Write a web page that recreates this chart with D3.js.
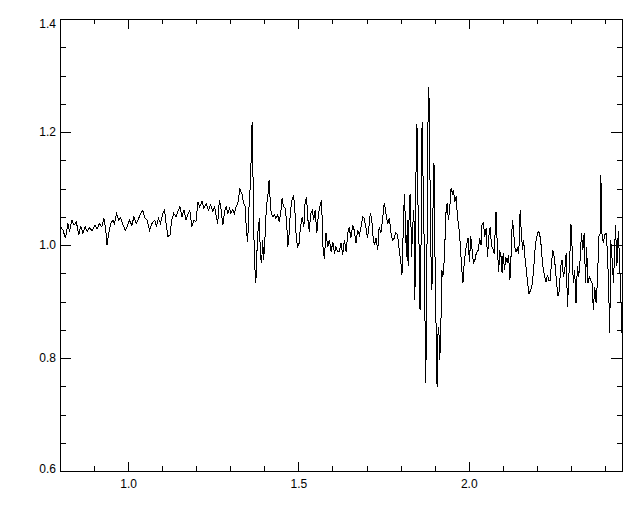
<!DOCTYPE html>
<html>
<head>
<meta charset="utf-8">
<script src="https://cdn.jsdelivr.net/npm/d3@7"></script>
<style>
body { margin: 0; background: #fff; }
svg text { font-family: "Liberation Sans", Arial, sans-serif; font-size: 12px; fill: #000; }
</style>
</head>
<body>
<script>
// values (x, ratio)
let waveX = [
  0.802, 0.809, 0.816, 0.823, 0.828, 0.835, 0.841, 0.848, 0.855, 0.861, 0.867, 0.874,
  0.880, 0.887, 0.894, 0.902, 0.909, 0.916, 0.923, 0.929, 0.934, 0.938, 0.943, 0.949,
  0.955, 0.960, 0.966, 0.972, 0.978, 0.985, 0.992, 0.997, 1.004, 1.011, 1.017, 1.024,
  1.031, 1.037, 1.043, 1.050, 1.056, 1.063, 1.070, 1.078, 1.083, 1.089, 1.095, 1.102,
  1.107, 1.112, 1.117, 1.123, 1.128, 1.134, 1.141, 1.146, 1.152, 1.158, 1.164, 1.170,
  1.175, 1.181, 1.187, 1.193, 1.199, 1.205,
  1.210, 1.217, 1.222, 1.229, 1.236, 1.242, 1.249, 1.254, 1.258, 1.263, 1.268, 1.273,
  1.278, 1.283, 1.288, 1.293, 1.298, 1.302, 1.307, 1.312, 1.317, 1.322, 1.328, 1.334,
  1.339, 1.344, 1.347, 1.351, 1.355, 1.359, 1.361, 1.364, 1.367, 1.369, 1.372, 1.375,
  1.378, 1.382, 1.386, 1.388, 1.392, 1.395, 1.398, 1.402, 1.406, 1.410, 1.414, 1.417,
  1.420, 1.425, 1.430, 1.434, 1.439, 1.444, 1.449, 1.452, 1.456, 1.461, 1.465, 1.469,
  1.473, 1.476, 1.481, 1.486, 1.490, 1.494, 1.498, 1.502, 1.506, 1.511, 1.516, 1.520,
  1.524, 1.528, 1.532, 1.536, 1.541, 1.545, 1.549, 1.554, 1.559, 1.564, 1.568, 1.572,
  1.576, 1.581, 1.586, 1.591, 1.596, 1.601, 1.606, 1.610, 1.615,
  1.620, 1.625, 1.630, 1.635, 1.640, 1.645, 1.649, 1.654, 1.659, 1.664, 1.669, 1.674,
  1.679, 1.684, 1.689, 1.693, 1.698, 1.703, 1.708, 1.711, 1.715, 1.719, 1.723, 1.728,
  1.733, 1.737, 1.742, 1.747, 1.752, 1.757, 1.762, 1.767, 1.772, 1.776, 1.781, 1.786,
  1.791, 1.796, 1.801, 1.804, 1.808, 1.811, 1.814, 1.817, 1.820, 1.822, 1.826, 1.829,
  1.832, 1.836, 1.839, 1.842, 1.845, 1.848, 1.851, 1.854, 1.857, 1.860, 1.863, 1.865,
  1.868, 1.871, 1.874, 1.877, 1.880, 1.883, 1.886, 1.889, 1.892, 1.895, 1.898, 1.901,
  1.904, 1.907, 1.909, 1.912, 1.915, 1.918, 1.921, 1.924, 1.927, 1.930, 1.934, 1.937,
  1.940, 1.944, 1.948, 1.952, 1.955, 1.959, 1.963, 1.967, 1.971, 1.975, 1.979, 1.983,
  1.987, 1.991, 1.995, 1.998, 2.002, 2.006, 2.010, 2.014, 2.018, 2.022,
  2.028, 2.032, 2.036, 2.039, 2.043, 2.047, 2.051, 2.055, 2.059, 2.063, 2.067, 2.071,
  2.075, 2.080, 2.082, 2.085, 2.088, 2.091, 2.095, 2.098, 2.101, 2.105, 2.109, 2.113,
  2.117, 2.121, 2.125, 2.128, 2.131, 2.135, 2.139, 2.143, 2.147, 2.151, 2.154, 2.158,
  2.161, 2.165, 2.169, 2.172, 2.177, 2.182, 2.187, 2.192, 2.196, 2.200, 2.204, 2.208,
  2.212, 2.215, 2.219, 2.223, 2.227, 2.231, 2.235, 2.239, 2.243, 2.247, 2.251, 2.255,
  2.258, 2.262, 2.266, 2.270, 2.274, 2.278, 2.282, 2.286, 2.290, 2.294, 2.298, 2.300,
  2.303, 2.307, 2.311, 2.315, 2.319, 2.323, 2.327, 2.331, 2.335, 2.339, 2.343, 2.346,
  2.350, 2.354, 2.358, 2.362, 2.366, 2.370, 2.374, 2.378, 2.382, 2.386, 2.388, 2.391,
  2.395, 2.399, 2.403, 2.407, 2.411, 2.414, 2.417, 2.421, 2.425, 2.429, 2.431, 2.435,
  2.439, 2.443, 2.447, 2.450
];
let waveY = [
  1.032, 1.026, 1.012, 1.038, 1.024, 1.044, 1.035, 1.041, 1.018, 1.034, 1.021, 1.032,
  1.024, 1.031, 1.025, 1.035, 1.029, 1.038, 1.032, 1.047, 1.029, 1.000, 1.021, 1.038,
  1.044, 1.038, 1.055, 1.044, 1.049, 1.035, 1.026, 1.032, 1.044, 1.035, 1.050, 1.038,
  1.047, 1.056, 1.061, 1.047, 1.044, 1.026, 1.038, 1.044, 1.032, 1.047, 1.038, 1.056,
  1.062, 1.035, 1.015, 1.018, 1.044, 1.056, 1.050, 1.059, 1.068, 1.050, 1.062, 1.044,
  1.053, 1.062, 1.032, 1.044, 1.041, 1.076,
  1.068, 1.077, 1.065, 1.073, 1.062, 1.071, 1.059, 1.068, 1.053, 1.038, 1.080, 1.062,
  1.035, 1.059, 1.068, 1.056, 1.065, 1.056, 1.062, 1.056, 1.068, 1.074, 1.099, 1.091,
  1.074, 1.068, 1.027, 1.006, 1.068, 1.109, 1.150, 1.218, 1.109, 1.021, 0.962, 0.932,
  0.985, 1.032, 1.047, 0.979, 0.968, 1.009, 0.973, 1.015, 1.068, 1.086, 1.115, 1.080,
  1.056, 1.050, 1.053, 1.047, 1.053, 1.041, 1.062, 1.083, 1.068, 1.065, 1.044, 0.997,
  1.021, 1.056, 1.080, 1.089, 1.056, 1.009, 0.997, 1.003, 1.032, 1.050, 1.032, 1.080,
  1.083, 1.044, 1.023, 1.056, 1.062, 1.044, 1.062, 1.021, 1.056, 1.071, 1.080, 0.997,
  0.976, 1.021, 0.997, 1.009, 0.988, 1.006, 0.985, 0.997, 0.988,
  0.988, 1.003, 0.982, 1.009, 0.988, 1.021, 1.032, 1.012, 1.035, 1.026, 1.003, 1.026,
  1.018, 1.032, 1.050, 1.047, 1.032, 1.012, 1.038, 1.056, 1.047, 1.015, 1.000, 1.012,
  0.991, 1.032, 1.021, 1.044, 1.075, 1.056, 1.038, 1.047, 1.021, 1.009, 1.012, 1.022,
  1.018, 0.991, 0.967, 0.947, 1.032, 1.091, 1.044, 0.979, 1.044, 0.962, 1.085, 1.091,
  0.979, 1.038, 1.062, 0.903, 1.121, 1.215, 1.074, 1.003, 0.885, 1.003, 1.218, 1.145,
  1.056, 0.897, 0.755, 0.956, 1.206, 1.280, 1.133, 0.985, 0.920, 1.062, 1.145, 0.979,
  0.861, 0.749, 0.838, 0.855, 0.796, 0.850, 0.956, 0.944, 0.962, 1.003, 1.068, 1.074,
  1.044, 1.062, 1.100, 1.091, 1.097, 1.077, 1.086, 1.050, 1.032, 1.003, 0.962, 0.932,
  0.970, 0.991, 1.003, 1.012, 0.970, 1.015, 0.991, 0.967, 0.973, 0.985,
  0.991, 1.012, 1.000, 1.035, 1.041, 1.015, 1.030, 0.979, 1.015, 1.032, 0.997, 0.994,
  0.985, 1.059, 1.027, 0.985, 0.953, 0.991, 0.979, 0.950, 0.985, 0.956, 0.979, 0.968,
  0.982, 0.938, 0.991, 1.044, 1.032, 0.997, 0.988, 0.994, 0.985, 1.062, 1.027, 0.991,
  1.009, 0.979, 0.956, 0.938, 0.914, 0.920, 0.932, 0.968, 1.003, 1.015, 1.024, 1.021,
  1.003, 0.979, 0.956, 0.944, 0.935, 0.947, 0.938, 0.938, 0.968, 0.991, 0.979, 0.956,
  0.932, 0.909, 0.920, 0.962, 0.974, 0.944, 0.956, 0.985, 0.891, 0.944, 0.997, 1.038,
  1.003, 0.932, 0.956, 0.897, 0.962, 0.944, 0.974, 1.021, 0.991, 1.021, 0.932, 0.997,
  0.932, 0.944, 0.938, 0.932, 0.885, 0.926, 0.897, 0.938, 1.015, 1.021, 1.124, 1.021,
  1.003, 1.018, 1.021, 0.991, 0.920, 0.844, 1.009, 0.974, 0.932, 1.003, 1.035, 0.962,
  1.024, 0.971, 0.900, 0.844
];

let xDomain = [0.8, 2.45];
let yDomain = [0.6, 1.4];
let xMajor = [1.0, 1.5, 2.0];
let xMinor = [0.9, 1.1, 1.2, 1.3, 1.4, 1.6, 1.7, 1.8, 1.9, 2.1, 2.2, 2.3, 2.4];
let yMajor = [0.6, 0.8, 1.0, 1.2, 1.4];
let yMinor = [0.65, 0.7, 0.75, 0.85, 0.9, 0.95, 1.05, 1.1, 1.15, 1.25, 1.3, 1.35];

var w = 640;
var h = 512;
// plot box edges in pixels
var padL = 60, padR = 622, padT = 19, padB = 471;

var svg = d3.select("body")
    .append("svg")
    .attr("width", w)
    .attr("height", h);

var x = d3.scaleLinear().domain(xDomain).range([padL, padR]);
var y = d3.scaleLinear().domain(yDomain).range([padB, padT]);
var fmt = d3.format(".1f");

function drawAxis(axis, tx, ty) {
    var g = svg.append("g")
        .attr("transform", "translate(" + tx + "," + ty + ")")
        .call(axis);
    g.attr("font-size", 12).attr("font-family", "Liberation Sans, Arial, sans-serif");
    g.select(".domain").remove();
    g.selectAll("line").attr("stroke", "#000").attr("shape-rendering", "crispEdges");
    return g;
}

// bottom axis: labelled majors + minors
drawAxis(d3.axisBottom(x).tickValues(xMajor).tickSize(-9.5).tickPadding(8).tickFormat(fmt), 0, padB);
drawAxis(d3.axisBottom(x).tickValues(xMinor).tickSize(-5).tickFormat(""), 0, padB);
// top axis, ticks only
drawAxis(d3.axisTop(x).tickValues(xMajor).tickSize(-9.5).tickFormat(""), 0, padT);
drawAxis(d3.axisTop(x).tickValues(xMinor).tickSize(-5).tickFormat(""), 0, padT);

// left axis
var yg = drawAxis(d3.axisLeft(y).tickValues(yMajor).tickSize(-11).tickPadding(4).tickFormat(fmt), padL, 0);
drawAxis(d3.axisLeft(y).tickValues(yMinor).tickSize(-5.5).tickFormat(""), padL, 0);
// right axis
drawAxis(d3.axisRight(y).tickValues(yMajor).tickSize(-11).tickFormat(""), padR, 0);
drawAxis(d3.axisRight(y).tickValues(yMinor).tickSize(-5.5).tickFormat(""), padR, 0);

// keep the end labels inside the frame like the original
yg.selectAll(".tick text")
    .attr("y", function (d) {
        var py = y(d);
        if (py - 4.5 < padT) return padT + 4.5 - py;
        if (py + 2 > padB) return padB - 2 - py;
        return 0;
    });

// frame
svg.append("rect")
    .attr("x", padL + 0.5)
    .attr("y", padT + 0.5)
    .attr("width", padR - padL)
    .attr("height", padB - padT)
    .attr("fill", "none")
    .attr("stroke", "#000")
    .attr("shape-rendering", "crispEdges");

var line = d3.line()
    .x(function (d) { return x(d[0]); })
    .y(function (d) { return y(d[1]); });

// the original is an aliased bitmap, so no smoothing on the trace
svg.append("path")
    .datum(d3.zip(waveX, waveY))
    .attr("d", line)
    .attr("fill", "none")
    .attr("stroke", "#000")
    .attr("stroke-width", 1)
    .attr("shape-rendering", "crispEdges");
</script>
</body>
</html>
